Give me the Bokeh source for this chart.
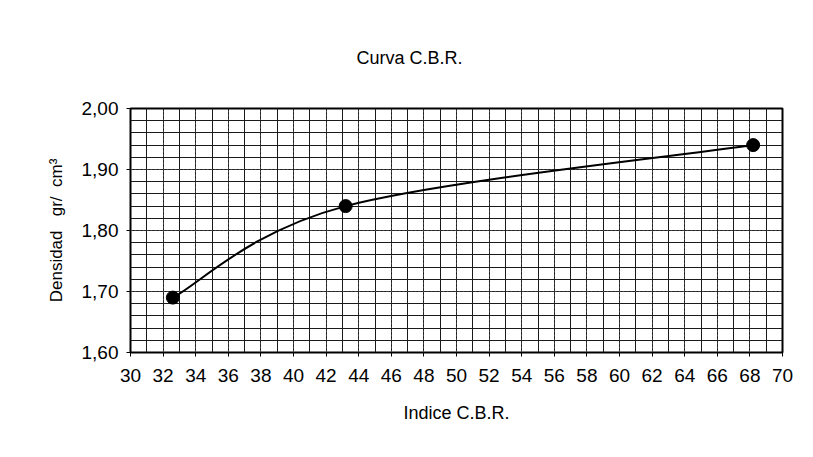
import numpy as np
from bokeh.plotting import figure
from bokeh.models import FixedTicker
from bokeh.embed import file_html
from bokeh.resources import INLINE

# ---- data ----
cbr_index = [32.6, 43.2, 68.2]
density = [1.69, 1.84, 1.94]

x_ticks = list(range(30, 71, 2))
x_minor = list(range(30, 71, 1))
y_ticks = [1.60, 1.70, 1.80, 1.90, 2.00]
y_tick_labels = ["1,60", "1,70", "1,80", "1,90", "2,00"]
y_minor = [round(1.60 + 0.02 * i, 2) for i in range(21)]

title_text = "Curva C.B.R."
x_title = "Indice C.B.R."
y_title = "Densidad\u00a0\u00a0\u00a0gr/\u00a0\u00a0cm\u00b3"

FONT = "Liberation Sans"

p = figure(frame_width=652, frame_height=244,
           min_border_left=130, min_border_top=108,
           min_border_right=31, min_border_bottom=105,
           x_range=(30, 70), y_range=(1.6, 2.0),
           output_backend="svg", toolbar_location=None)
p.background_fill_color = "white"
p.border_fill_color = "white"
p.outline_line_color = "black"
p.outline_line_width = 2

p.title.text = title_text
p.title.align = "left"
p.title.offset = 226
p.title.standoff = 81
p.title.text_font = FONT
p.title.text_font_size = "18px"
p.title.text_font_style = "normal"
p.title.text_color = "black"

p.xaxis.ticker = FixedTicker(ticks=x_ticks, minor_ticks=x_minor)
p.yaxis.ticker = FixedTicker(ticks=y_ticks, minor_ticks=y_minor)
p.yaxis.major_label_overrides = {t: l for t, l in zip(y_ticks, y_tick_labels)}

for ax in (p.xaxis, p.yaxis):
    ax.axis_line_color = None
    ax.major_tick_out = 4
    ax.major_tick_in = 0
    ax.major_tick_line_color = "black"
    ax.minor_tick_line_color = None
    ax.major_label_text_font = FONT
    ax.major_label_text_font_size = "19px"
    ax.major_label_text_color = "black"
    ax.axis_label_text_font = FONT
    ax.axis_label_text_font_style = "normal"
    ax.axis_label_text_color = "black"

p.xaxis.axis_label = x_title
p.yaxis.axis_label = y_title
p.xaxis.axis_label_text_font_size = "18px"
p.yaxis.axis_label_text_font_size = "17px"
p.xaxis.major_label_standoff = 12
p.xaxis.axis_label_standoff = 18
p.yaxis.major_label_standoff = 8
p.yaxis.axis_label_standoff = 13

for g in (p.xgrid, p.ygrid):
    g.grid_line_color = "#444444"
    g.grid_line_dash = "2 2"
    g.grid_line_width = 1
    g.minor_grid_line_color = "#1a1a1a"
    g.minor_grid_line_width = 1

# smooth curve (Catmull-Rom style Bezier through the data points)
pts = np.column_stack([cbr_index, density])
ext = np.vstack([pts[0], pts, pts[-1]])
x0, y0, x1, y1, cx0, cy0, cx1, cy1 = ([] for _ in range(8))
for i in range(1, len(ext) - 2):
    a, b, c, d = ext[i - 1], ext[i], ext[i + 1], ext[i + 2]
    c0 = b + (c - a) / 6.0
    c1 = c - (d - b) / 6.0
    x0.append(b[0]); y0.append(b[1]); x1.append(c[0]); y1.append(c[1])
    cx0.append(c0[0]); cy0.append(c0[1]); cx1.append(c1[0]); cy1.append(c1[1])
p.bezier(x0=x0, y0=y0, x1=x1, y1=y1, cx0=cx0, cy0=cy0, cx1=cx1, cy1=cy1,
         line_color="black", line_width=2)

p.scatter(cbr_index, density, size=13, marker="circle",
          fill_color="black", line_color="black")

open("out.html", "w").write(file_html(p, INLINE))
